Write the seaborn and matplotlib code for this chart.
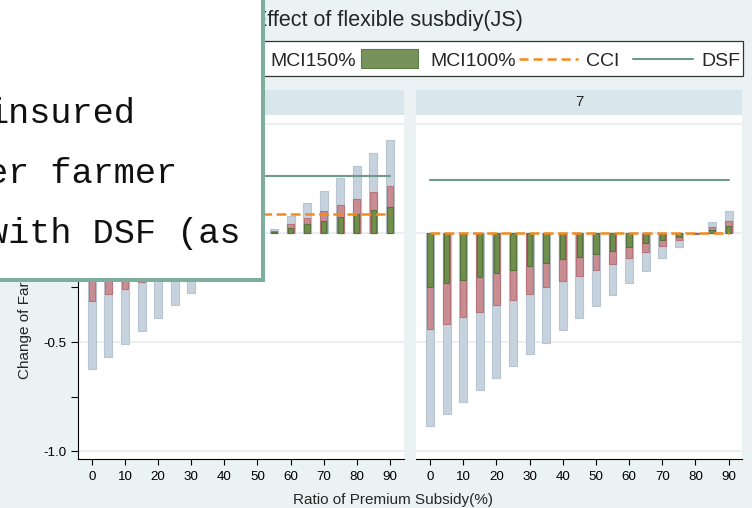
import numpy as np
import pandas as pd
import matplotlib
matplotlib.use("Agg")
import matplotlib.pyplot as plt
import seaborn as sns
from matplotlib.patches import Rectangle
from matplotlib.lines import Line2D

# ---------------- data ----------------
ratios = [0, 5, 10, 15, 20, 25, 30, 35, 40, 45, 50, 55, 60, 65, 70, 75, 80, 85, 90]
facets = ["6", "7"]
series = ["MCI200%", "MCI150%", "MCI100%"]

mci200_f6 = [-0.625, -0.569, -0.509, -0.449, -0.390, -0.332, -0.275, -0.217, -0.160, -0.100,
             -0.045, 0.020, 0.077, 0.135, 0.193, 0.251, 0.307, 0.366, 0.424]
mci150_f6 = [-0.312, -0.280, -0.255, -0.225, -0.195, -0.166, -0.137, -0.108, -0.080, -0.050,
             -0.022, 0.010, 0.040, 0.069, 0.100, 0.127, 0.156, 0.187, 0.214]
mci100_f6 = [-0.175, -0.159, -0.143, -0.126, -0.109, -0.093, -0.077, -0.061, -0.045, -0.028,
             -0.013, 0.006, 0.023, 0.040, 0.055, 0.072, 0.087, 0.104, 0.119]

mci200_f7 = [-0.885, -0.830, -0.775, -0.722, -0.665, -0.611, -0.556, -0.503, -0.443, -0.391,
             -0.337, -0.283, -0.228, -0.174, -0.116, -0.064, -0.007, 0.048, 0.100]
mci150_f7 = [-0.440, -0.416, -0.387, -0.362, -0.332, -0.307, -0.278, -0.250, -0.220, -0.197,
             -0.170, -0.142, -0.115, -0.087, -0.060, -0.034, -0.004, 0.026, 0.054]
mci100_f7 = [-0.248, -0.229, -0.214, -0.202, -0.186, -0.170, -0.153, -0.140, -0.122, -0.110,
             -0.096, -0.083, -0.063, -0.046, -0.034, -0.020, -0.002, 0.015, 0.031]

cci_level = {"6": 0.086, "7": 0.0}
dsf_level = {"6": 0.260, "7": 0.242}

x_ticks = [0, 10, 20, 30, 40, 50, 60, 70, 80, 90]
y_major = [-1.0, -0.5, 0.0, 0.5]
y_minor = [-0.75, -0.25, 0.25]

title_text = "Effect of flexible susbdiy(JS)"
legend_labels = ["MCI200%", "MCI150%", "MCI100%", "CCI", "DSF"]
x_label = "Ratio of Premium Subsidy(%)"
y_label = "Change of Farmer Welfare"
note_lines = ["insured", "er farmer", "with DSF (as"]

vals = {("6", "MCI200%"): mci200_f6, ("6", "MCI150%"): mci150_f6, ("6", "MCI100%"): mci100_f6,
        ("7", "MCI200%"): mci200_f7, ("7", "MCI150%"): mci150_f7, ("7", "MCI100%"): mci100_f7}
rows = []
for (f, s), v in vals.items():
    for r, y in zip(ratios, v):
        rows.append({"facet": f, "series": s, "ratio": r, "value": y})
df = pd.DataFrame(rows)

# ---------------- style ----------------
sns.set_theme(style="ticks")
plt.rcParams["font.family"] = ["Liberation Sans", "DejaVu Sans"]
plt.rcParams["axes.unicode_minus"] = False
plt.rcParams["lines.scale_dashes"] = False

BG = "#EAF2F3"
STRIP = "#D9E6EB"
GRID = "#E6EFF1"
C_GRAY, E_GRAY = "#C6D2DD", "#B7C5D2"
C_PINK, E_PINK = "#C88D92", "#B7737A"
C_GREEN, E_GREEN = "#708F4D", "#55733A"
C_ORANGE = "#F28A1E"
C_DSF = "#6E9A8C"
BOX_EDGE = "#7EAF9E"

W, H = 752, 508
fig = plt.figure(figsize=(W / 100, H / 100), dpi=100, facecolor=BG)


def px_axes(x0, y0, x1, y1, **kw):
    return fig.add_axes([x0 / W, 1 - y1 / H, (x1 - x0) / W, (y1 - y0) / H], **kw)


ax_l = px_axes(78, 115, 403.5, 459)
ax_r = px_axes(416, 115, 742.3, 459)
axes = [ax_l, ax_r]

layers = [("MCI200%", 0.48, C_GRAY, E_GRAY, 2),
          ("MCI150%", 0.40, C_PINK, E_PINK, 3),
          ("MCI100%", 0.32, C_GREEN, E_GREEN, 4)]

for ax, f in zip(axes, facets):
    ax.set_facecolor("white")
    for yv in y_major:
        ax.axhline(yv, color=GRID, lw=1.3, zorder=0)
    sub = df[df.facet == f]
    for s, w, fc, ec, z in layers:
        d = sub[sub.series == s]
        sns.barplot(data=d, x="ratio", y="value", native_scale=True, width=w,
                    color=fc, edgecolor=ec, linewidth=0.8, saturation=1,
                    errorbar=None, ax=ax, zorder=z)
    sns.lineplot(x=ratios, y=[dsf_level[f]] * len(ratios), color=C_DSF, lw=1.5,
                 ax=ax, zorder=6)
    sns.lineplot(x=ratios, y=[cci_level[f]] * len(ratios), color=C_ORANGE, lw=1.8,
                 linestyle=(0, (7, 3.2)), ax=ax, zorder=7)
    ax.set_xlim(-4.2, 94.1)
    ax.set_ylim(-1.036, 0.540)
    ax.set_xlabel("")
    ax.set_ylabel("")
    ax.set_xticks(x_ticks)
    ax.set_xticklabels([str(t) for t in x_ticks], fontsize=9.6)
    ax.tick_params(axis="x", length=4, width=0.8, color="black", pad=4.5, labelcolor="black")
    for sp in ["top", "right"]:
        ax.spines[sp].set_visible(False)
    ax.spines["bottom"].set_color("black")
    ax.spines["bottom"].set_linewidth(0.8)
    if ax.get_legend() is not None:
        ax.get_legend().remove()

ax_l.set_yticks(y_major)
ax_l.set_yticklabels([f"{v:.1f}" for v in y_major], fontsize=9.6)
ax_l.set_yticks(y_minor, minor=True)
ax_l.tick_params(axis="y", which="both", length=5, width=0.8, color="black", pad=3, labelcolor="black")
ax_l.spines["left"].set_color("black")
ax_l.spines["left"].set_linewidth(0.8)
ax_r.spines["left"].set_visible(False)
ax_r.set_yticks([])

# strips
for (x0, x1), f in zip([(78, 403.5), (416, 742.3)], facets):
    st = px_axes(x0, 89.5, x1, 114.5)
    st.set_facecolor(STRIP)
    st.set_xticks([]); st.set_yticks([])
    for sp in st.spines.values():
        sp.set_visible(False)
    st.text(0.5, 0.5, f, ha="center", va="center", fontsize=10.8, transform=st.transAxes)

fig.text(393 / W, 1 - 500 / H, x_label, ha="center", va="center", fontsize=11)
fig.text(25.5 / W, 1 - 379 / H, y_label, rotation=90, ha="center", va="bottom", fontsize=11)

# ---------------- overlay (title, legend, note box) in pixel coords ----------------
ov = fig.add_axes([0, 0, 1, 1], zorder=20)
ov.set_xlim(0, W); ov.set_ylim(H, 0); ov.axis("off"); ov.patch.set_alpha(0)

ov.text(522.7, 26, title_text, ha="right", va="baseline", fontsize=15.5)

ov.add_patch(Rectangle((30, 40.7), 712.5, 35.3, fc="white", ec="#333333", lw=0.9))
fs_leg = 14
ov.add_patch(Rectangle((42, 49), 57, 19, fc=C_GRAY, ec=E_GRAY, lw=0.8))
ov.text(111.7, 66, legend_labels[0], ha="left", va="baseline", fontsize=fs_leg)
ov.add_patch(Rectangle((201.7, 49), 57, 19, fc=C_PINK, ec=E_PINK, lw=0.8))
ov.text(270.7, 66, legend_labels[1], ha="left", va="baseline", fontsize=fs_leg)
ov.add_patch(Rectangle((361, 49), 57, 19, fc="#77925A", ec="#5D7B45", lw=0.8))
ov.text(430, 66, legend_labels[2], ha="left", va="baseline", fontsize=fs_leg)
ov.add_line(Line2D([519, 578], [58.5, 58.5], color=C_ORANGE, lw=1.8, linestyle=(0, (6.5, 3.6))))
ov.text(586, 66, legend_labels[3], ha="left", va="baseline", fontsize=fs_leg)
ov.add_line(Line2D([633, 693], [58.5, 58.5], color=C_DSF, lw=1.5))
ov.text(701.7, 66, legend_labels[4], ha="left", va="baseline", fontsize=fs_leg)

# note box on top
box = Rectangle((-10, -10), 273, 289.5, fc="white", ec=BOX_EDGE, lw=2.9, zorder=30)
ov.add_patch(box)
for line, base in zip(note_lines, [122.7, 182.7, 242.7]):
    t = ov.text(-13, base, line, ha="left", va="baseline", fontsize=25.4,
                family=["Liberation Mono", "DejaVu Sans Mono"], color="#111111", zorder=31)
    t.set_clip_path(box)

fig.savefig("out.png", dpi=100, facecolor=BG)
